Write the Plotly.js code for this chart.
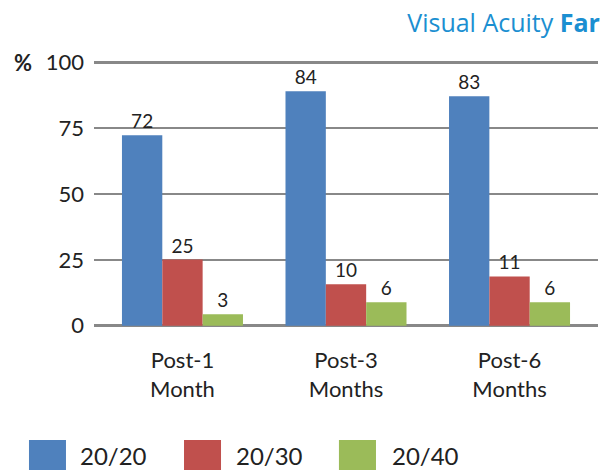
<!DOCTYPE html>
<html>
<head>
<meta charset="utf-8">
<script src="https://cdn.plot.ly/plotly-3.0.1.min.js"></script>
<style>html,body{margin:0;padding:0;background:#fff;}#chart{width:605px;height:471px;}</style>
</head>
<body>
<div id="chart"></div>
<script>
// Data
var categories = ['Post-1<br>Month', 'Post-3<br>Months', 'Post-6<br>Months'];
var seriesNames = ['20/20', '20/30', '20/40'];
// bar heights as drawn
var va2020 = [72.3, 89.0, 87.1];
var va2030 = [25.1, 15.7, 18.7];
var va2040 = [4.3, 8.9, 8.9];
// data labels as printed
var lbl2020 = ['72', '84', '83'];
var lbl2030 = ['25', '10', '11'];
var lbl2040 = ['3', '6', '6'];
var yTicks = [0, 25, 50, 75, 100];

var colors = ['#4f81bd', '#c0504d', '#9bbb59'];
var FONT = 'Lato, "Open Sans", sans-serif';
var values = [va2020, va2030, va2040];
var labels = [lbl2020, lbl2030, lbl2040];

var traces = values.map(function (v, i) {
  return {
    type: 'bar',
    x: categories,
    y: v,
    name: seriesNames[i],
    text: labels[i],
    textposition: 'outside',
    textfont: {family: FONT, size: 19, color: '#222'},
    cliponaxis: false,
    marker: {color: colors[i]},
    hoverinfo: 'none'
  };
});

// custom legend (large square swatches)
var legX = [[-0.129, -0.0556, -0.0317], [0.1786, 0.252, 0.2778], [0.486, 0.5595, 0.5873]];
var shapes = [], annotations = [];
seriesNames.forEach(function (n, i) {
  shapes.push({type: 'rect', xref: 'paper', yref: 'paper',
    x0: legX[i][0], x1: legX[i][1], y0: -0.5376, y1: -0.4248,
    fillcolor: colors[i], line: {width: 0}});
  annotations.push({xref: 'paper', yref: 'paper', x: legX[i][2], y: -0.482,
    xanchor: 'left', yanchor: 'middle', showarrow: false, text: n,
    font: {family: FONT, size: 24, color: '#222'}});
});
annotations.push({xref: 'paper', yref: 'y', x: -0.141, y: 100, xanchor: 'center', yanchor: 'middle',
  showarrow: false, text: '<b>%</b>', font: {family: FONT, size: 22, color: '#222'}});

var layout = {
  width: 605, height: 471,
  margin: {l: 94, r: 7, t: 61, b: 144},
  paper_bgcolor: '#fff', plot_bgcolor: '#fff',
  showlegend: false,
  barmode: 'group',
  bargap: 0.26,
  bargroupgap: 0,
  title: {text: 'Visual Acuity <b>Far</b>', xref: 'container', x: 0.9917, xanchor: 'right',
    yref: 'container', y: 0.951, yanchor: 'middle',
    font: {family: '"Open Sans", Lato, sans-serif', size: 25, color: 'rgb(27,143,209)'}},
  xaxis: {
    range: [-0.541, 2.541],
    showgrid: false, zeroline: false, showline: false,
    ticks: '', ticklabelstandoff: 18,
    tickfont: {family: FONT, size: 22, color: '#222'}
  },
  yaxis: {
    range: [-0.5, 100.5],
    tickvals: yTicks,
    showgrid: true, gridcolor: '#888', gridwidth: 2.5,
    zeroline: true, zerolinecolor: '#888', zerolinewidth: 3,
    showline: false, ticks: '', ticklabelstandoff: 9,
    tickfont: {family: FONT, size: 22, color: '#222'}
  },
  shapes: shapes,
  annotations: annotations
};

Plotly.newPlot('chart', traces, layout, {displayModeBar: false, staticPlot: true});
</script>
</body>
</html>
